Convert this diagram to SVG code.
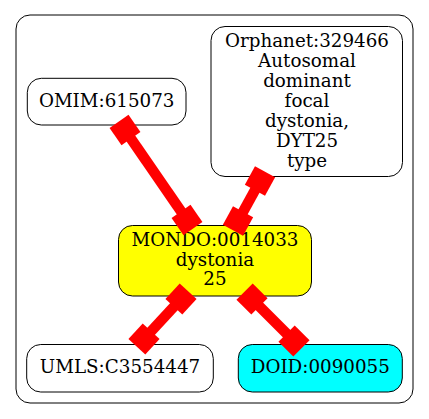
<svg xmlns="http://www.w3.org/2000/svg" width="429" height="419" viewBox="0 0 429 419">
<style>
.nd{stroke:#000;stroke-width:1}
.t{font-family:"DejaVu Serif",serif;font-size:18.3px;text-anchor:middle;fill:#000}
.e line{stroke:#f00;stroke-width:10.5}
.e rect{fill:#f00}
</style>
<rect width="429" height="419" fill="#fff"/>
<rect x="16" y="15" width="397" height="388" rx="14" fill="none" stroke="#000" stroke-width="1"/>
<g id="omim">
<rect class="nd" x="27.3" y="78.3" width="158.7" height="46.7" rx="14" fill="none"/>
<text class="t" x="106.7" y="107.3">OMIM:615073</text>
</g>
<g id="orphanet">
<rect class="nd" x="211" y="26.5" width="191.5" height="150" rx="14" fill="none"/>
<text class="t" x="307" y="46.7">Orphanet:329466</text>
<text class="t" x="307" y="66.7">Autosomal</text>
<text class="t" x="307" y="86.7">dominant</text>
<text class="t" x="307" y="106.7">focal</text>
<text class="t" x="307" y="126.7">dystonia,</text>
<text class="t" x="307" y="146.7">DYT25</text>
<text class="t" x="307" y="166.7">type</text>
</g>
<g id="mondo">
<rect class="nd" x="118.5" y="225.5" width="193" height="70.5" rx="14" fill="#ff0"/>
<text class="t" x="215" y="246">MONDO:0014033</text>
<text class="t" x="215" y="265.7">dystonia</text>
<text class="t" x="215" y="285.3">25</text>
</g>
<g id="umls">
<rect class="nd" x="26.7" y="344.5" width="186.6" height="47.5" rx="14" fill="none"/>
<text class="t" x="120" y="373">UMLS:C3554447</text>
</g>
<g id="doid">
<rect class="nd" x="238.3" y="344.5" width="164" height="47.5" rx="14" fill="#0ff"/>
<text class="t" x="320.3" y="373">DOID:0090055</text>
</g>
<g id="edges" class="e">
<g id="e1"><line x1="125" y1="130" x2="187" y2="220"/>
<rect x="-10.5" y="-11.5" width="21" height="23" transform="translate(125,130) rotate(55.4)"/>
<rect x="-10.5" y="-11.5" width="21" height="23" transform="translate(187,220) rotate(55.4)"/></g>
<g id="e2"><line x1="260" y1="181" x2="238" y2="221"/>
<rect x="-10.5" y="-11.5" width="21" height="23" transform="translate(260,181) rotate(118.8)"/>
<rect x="-10.5" y="-11.5" width="21" height="23" transform="translate(238,221) rotate(118.8)"/></g>
<g id="e3"><line x1="181" y1="299" x2="144" y2="339"/>
<rect x="-10.5" y="-11.5" width="21" height="23" transform="translate(181,299) rotate(132.8)"/>
<rect x="-10.5" y="-11.5" width="21" height="23" transform="translate(144,339) rotate(132.8)"/></g>
<g id="e4"><line x1="252" y1="299" x2="294" y2="341"/>
<rect x="-10.5" y="-11.5" width="21" height="23" transform="translate(252,299) rotate(45)"/>
<rect x="-10.5" y="-11.5" width="21" height="23" transform="translate(294,341) rotate(45)"/></g>
</g>
</svg>
